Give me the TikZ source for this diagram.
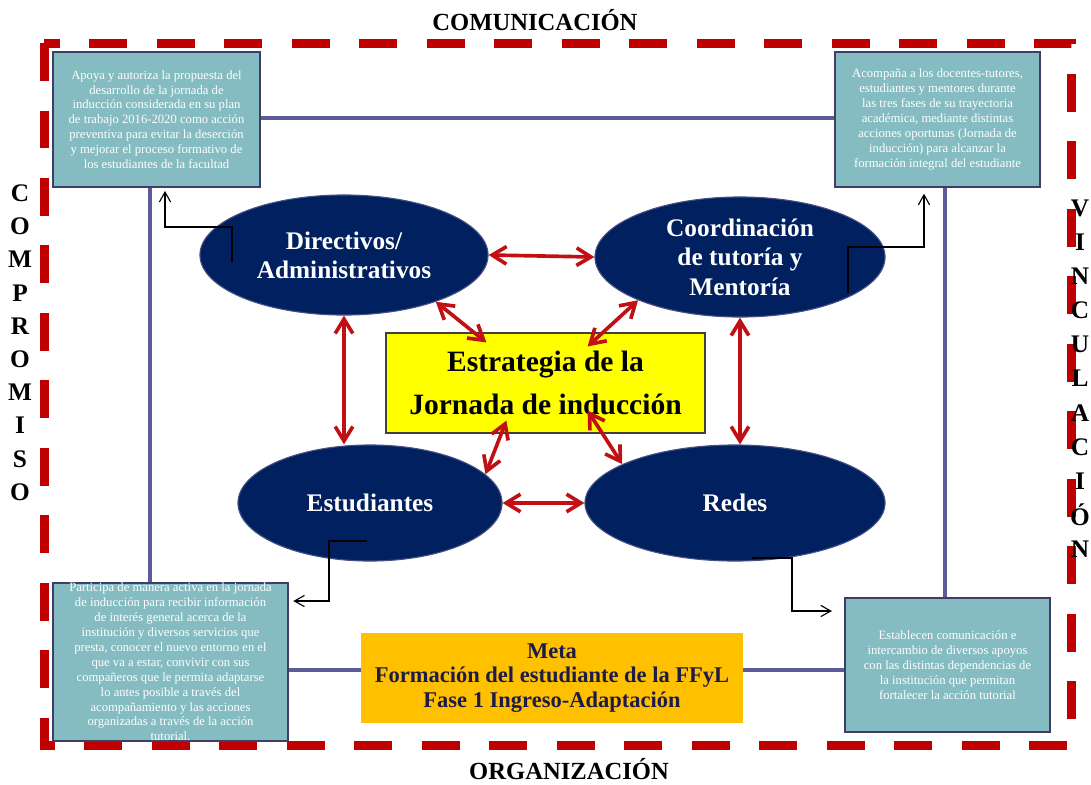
\documentclass[tikz,border=0pt]{standalone}
\usepackage{fontspec}
\setmainfont{Liberation Serif}
\usepackage{xcolor}
\usepackage{tikz}
\usetikzlibrary{arrows.meta,shapes.geometric}
\definecolor{borderred}{RGB}{192, 0, 0}
\definecolor{arrowred}{RGB}{192, 16, 20}
\definecolor{boxteal}{RGB}{132, 188, 193}
\definecolor{boxline}{RGB}{62, 62, 104}
\definecolor{framepurple}{RGB}{92, 92, 152}
\definecolor{navyfill}{RGB}{0, 32, 96}
\definecolor{navyedge}{RGB}{70, 80, 130}
\definecolor{goalorange}{RGB}{255, 192, 0}
\definecolor{goaltext}{RGB}{28, 28, 70}
\definecolor{stratyellow}{RGB}{255, 255, 0}

\begin{document}
\begin{tikzpicture}[x=0.025cm, y=-0.025cm,
    every node/.style={font=\fontsize{9}{10.6}\selectfont, align=center},
    infobox/.style={draw=boxline, fill=boxteal, line width=1.5pt, text=white, inner sep=2pt},
    actor/.style={ellipse, draw=navyedge, fill=navyfill, line width=0.8pt, text=white, inner sep=0pt, font=\fontsize{18}{20.5}\selectfont\bfseries},
    link/.style={{Straight Barb[length=3.6mm,width=4.4mm]}-{Straight Barb[length=3.6mm,width=4.4mm]}, arrowred, line width=2.6pt},
    callout/.style={-{Straight Barb[length=2.5mm,width=2.8mm]}, black, line width=0.8pt},
    frameline/.style={framepurple, line width=2.8pt},
    sidetitle/.style={font=\fontsize{17.5}{20}\selectfont\bfseries, inner sep=0pt},
    sideletter/.style={font=\fontsize{18}{18}\selectfont\bfseries, inner sep=0pt}]
    \useasboundingbox (0,0) rectangle (1091,784);

    % Dashed outer border and its four titles
    \draw[borderred, line width=6.4pt, dash pattern=on 27pt off 21pt] (44,43) rectangle (1071,745);
    \node[sidetitle] (comm) at (535,20) {COMUNICACIÓN};
    \node[sidetitle] (org) at (569,769) {ORGANIZACIÓN};
    \foreach \ch [count=\i] in {C,O,M,P,R,O,M,I,S,O}
        \node[sideletter] (comp\i) at (20,{160+33.2*\i}) {\ch};
    \foreach \ch [count=\i] in {V,I,N,C,U,L,A,C,I,Ó,N}
        \node[sideletter] (vinc\i) at (1080,{174+34.1*\i}) {\ch};

    % Corner boxes
    \node[infobox, minimum width=5.175cm, minimum height=3.375cm] (tl) at (156.5,119.5) {Apoya y autoriza la propuesta del\\desarrollo de la jornada de\\inducción considerada en su plan\\de trabajo 2016-2020 como acción\\preventiva para evitar la deserción\\y mejorar el proceso formativo de\\los estudiantes  de la facultad};
    \node[infobox, minimum width=5.125cm, minimum height=3.375cm] (tr) at (937.5,119.5) {Acompaña a los docentes-tutores,\\estudiantes y mentores durante\\las tres fases de su trayectoria\\académica, mediante distintas\\acciones oportunas (Jornada de\\inducción) para alcanzar la\\formación integral del estudiante};
    \node[infobox, minimum width=5.875cm, minimum height=3.95cm, inner sep=0pt] (bl) at (170.5,662) {Participa de manera activa en la jornada\\de inducción para recibir información\\de interés general acerca de la\\institución y diversos servicios que\\presta, conocer el nuevo entorno en el\\que va a estar, convivir con sus\\compañeros que le permita  adaptarse\\lo antes posible a través del\\acompañamiento y las acciones\\organizadas a través de la acción\\tutorial.};
    \node[infobox, minimum width=5.125cm, minimum height=3.35cm] (br) at (947.5,665) {Establecen comunicación e\\intercambio de diversos apoyos\\con las distintas dependencias  de\\la institución que permitan\\fortalecer la acción tutorial};

    % Frame joining the boxes
    \draw[frameline] (tl.east |- 0,118) -- (tr.west |- 0,118);
    \draw[frameline] (tl.south -| 150,0) -- (bl.north -| 150,0);
    \draw[frameline] (tr.south -| 945,0) -- (br.north -| 945,0);
    \draw[frameline] (bl.east |- 0,670) -- (br.west |- 0,670);

    % Goal
    \node[fill=goalorange, text=goaltext, minimum width=9.55cm, minimum height=2.225cm, font=\fontsize{16}{17.6}\selectfont\bfseries] (goal) at (552,678) {Meta\\Formación del estudiante de la FFyL\\Fase 1 Ingreso-Adaptación};

    % Actors
    \node[actor, minimum width=7.2cm, minimum height=3.0cm] (dir) at (344,255) {Directivos/\\Administrativos};
    \node[actor, minimum width=7.25cm, minimum height=3.0cm, font=\fontsize{18}{21}\selectfont\bfseries] (coord) at (740,257) {Coordinación\\de tutoría y\\Mentoría};
    \node[actor, minimum width=6.6cm, minimum height=2.9cm] (est) at (370,503) {Estudiantes};
    \node[actor, minimum width=7.5cm, minimum height=2.9cm] (redes) at (735,503) {Redes};

    % Strategy
    \node[draw=black!75, fill=stratyellow, line width=0.8pt, minimum width=7.975cm, minimum height=2.5cm, font=\fontsize{21}{31}\selectfont\bfseries] (strat) at (545.5,383) {Estrategia de la\\Jornada de inducción};

    % Red links
    \draw[link] (dir.east) -- (coord.west);
    \draw[link] (dir.-27) -- ([shift={(101,10)}]strat.north west);
    \draw[link] (coord.203) -- ([shift={(-118,14)}]strat.north east);
    \draw[link] ([shift={(121,-13)}]strat.south west) -- (est.14);
    \draw[link] ([shift={(-118,-23)}]strat.south east) -- (redes.161);
    \draw[link] (est.east) -- (redes.west);
    \draw[link] (dir.south) -- (dir.south |- est.north);
    \draw[link] (coord.south) -- (coord.south |- redes.north);

    % Callouts to the boxes
    \coordinate (dirout) at (232,262);
    \coordinate (coordout) at (848,293);
    \coordinate (estout) at (367,541);
    \coordinate (redesout) at (752,558);
    \draw[callout] (dirout) -- ++(0,-35) -| ([yshift=-2pt]tl.south -| 165,0);
    \draw[callout] (coordout) -- ++(0,-46) -| ([yshift=-4pt]tr.south -| 924,0);
    \draw[callout] (estout) -- ++(-38,0) |- ([xshift=3pt]bl.east |- 0,601);
    \draw[callout, shorten >=0.3cm] (redesout) -- ++(40,0) |- (br.west |- 0,611);
\end{tikzpicture}
\end{document}
